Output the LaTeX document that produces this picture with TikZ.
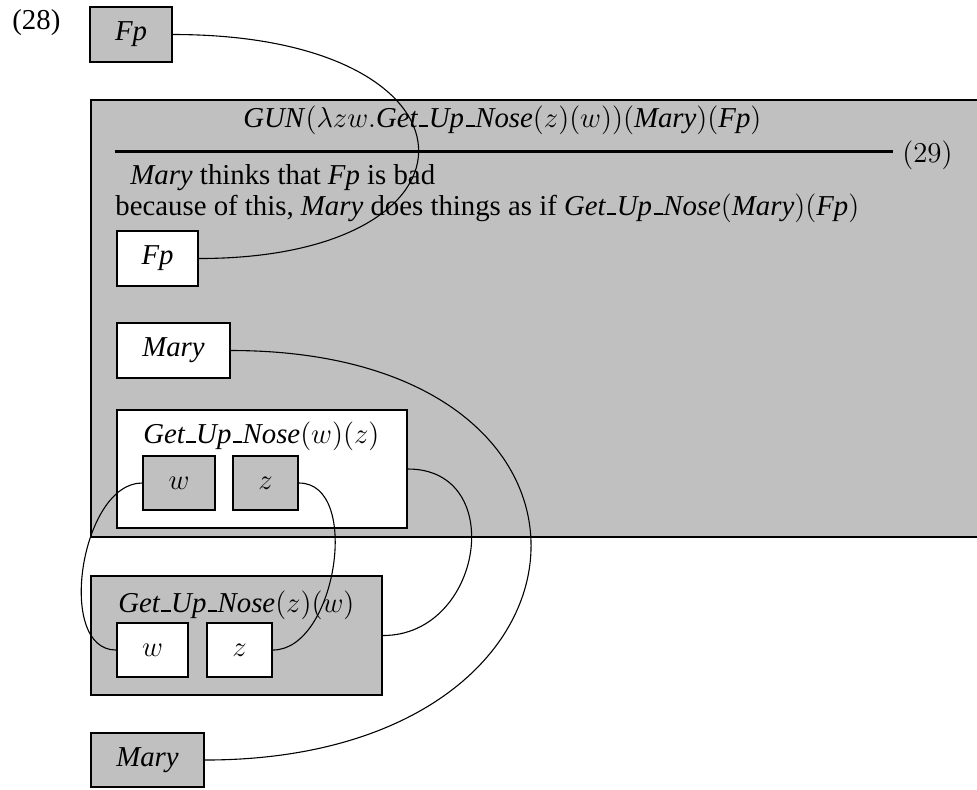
\documentclass[tikz,border=0pt]{standalone}
\usepackage[no-math]{fontspec}
\setmainfont{Liberation Serif}
\definecolor{boxgray}{RGB}{192,192,192}
\newcommand{\labelfont}{\fontsize{14.4}{17}\selectfont}
% low rule used inside predicate names
\newcommand{\lowbar}{\kern.05em\rule{.32em}{.065em}\kern.02em}
\newcommand{\GUNpred}{\textit{Get\lowbar Up\lowbar Nose}}
\tikzset{
  box/.style={draw, line width=1pt, inner sep=0pt, font=\labelfont},
  graybox/.style={box, fill=boxgray},
  whitebox/.style={box, fill=white},
  txt/.style={inner sep=0pt, anchor=base west, font=\labelfont},
  link/.style={line width=0.55pt}
}
\begin{document}
\begin{tikzpicture}[x=0.5pt, y=-0.5pt]
\useasboundingbox (0,0) rectangle (977,789);
\clip (0,0) rectangle (977,789);

% example number
\node[txt] (ex28) at (12,29) {(28)};

% outer argument
\node[graybox, minimum width=41pt, minimum height=27.5pt] (topfp) at (131,34.5) {\textit{Fp}};

% the GUN frame (runs off to the right)
\node[graybox, minimum width=454.5pt, minimum height=218.5pt] (gun) at (545.5,318.5) {};
\node[txt] (head) at (243,127)
  {\textit{GUN}$(\lambda zw.$\GUNpred$(z)(w))($\textit{Mary}$)($\textit{Fp}$)$};
\coordinate (rulel) at (115,151);
\coordinate (ruler) at (893,151);
\draw[line width=1.5pt] (rulel) -- (ruler);
\node[txt] (ex29) at (902,162) {$(29)$};
\node[txt] (line1) at (130,184) {\textit{Mary} thinks that \textit{Fp} is bad};
\node[txt] (line2) at (115,215)
  {because of this, \textit{Mary} does things as if \GUNpred$($\textit{Mary}$)($\textit{Fp}$)$};

\node[whitebox, minimum width=40.5pt, minimum height=27.5pt] (fpin) at (157.5,258.5) {\textit{Fp}};
\node[whitebox, minimum width=56.5pt, minimum height=27.5pt] (maryin) at (173.5,350.5) {\textit{Mary}};

% inner predicate box
\node[whitebox, minimum width=145pt, minimum height=59pt] (gunwz) at (262,469) {};
\node[txt] (labwz) at (143,443) {\GUNpred$(w)(z)$};
\node[graybox, minimum width=36pt, minimum height=27pt] (win) at (179,483) {$w$};
\node[graybox, minimum width=32.5pt, minimum height=27pt] (zin) at (265.5,483) {$z$};

% argument predicate box
\node[graybox, minimum width=145.5pt, minimum height=59.5pt] (gunzw) at (236.5,635.5) {};
\node[txt] (labzw) at (118,612) {\GUNpred$(z)(w)$};
\node[whitebox, minimum width=35.5pt, minimum height=27pt] (wout) at (152.5,650) {$w$};
\node[whitebox, minimum width=32.5pt, minimum height=27pt] (zout) at (239.5,650) {$z$};

% outer argument
\node[graybox, minimum width=56.5pt, minimum height=27pt] (marybot) at (147.5,760) {\textit{Mary}};

% links
\draw[link] (topfp.east) .. controls +(320,0) and +(300,0) .. (fpin.east);
\draw[link] (maryin.east) .. controls +(417,0) and +(417,0) .. (marybot.east);
\draw[link] (win.west) .. controls +(-61,0) and +(-61,0) .. (wout.west);
\draw[link] (zin.east) .. controls +(63,0) and +(63,0) .. (zout.east);
\draw[link] (gunwz.east) .. controls +(100,0) and +(100,0) .. (gunzw.east);
\end{tikzpicture}
\end{document}
